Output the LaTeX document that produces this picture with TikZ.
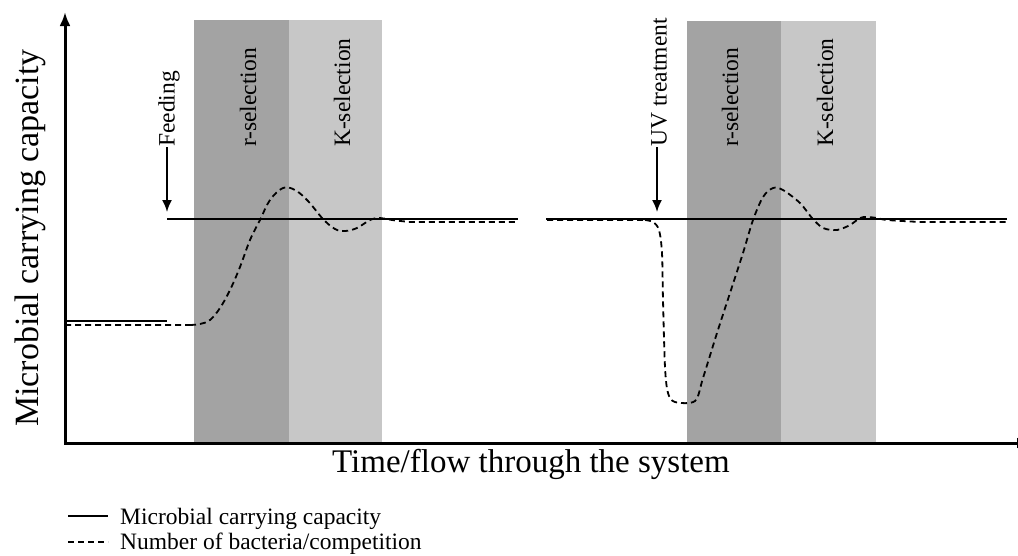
\documentclass[tikz,border=0pt]{standalone}
\usepackage{fontspec}
\setmainfont{Liberation Serif}
\usetikzlibrary{arrows.meta}
\definecolor{rgray}{RGB}{163,163,163}
\definecolor{kgray}{RGB}{199,199,199}
\begin{document}
\begin{tikzpicture}[x=1pt,y=-1pt,
  axisline/.style={line width=3pt},
  capline/.style={line width=1.8pt},
  bactline/.style={line width=1.8pt, dash pattern=on 6pt off 4pt},
  vlab/.style={rotate=90, inner sep=0pt, font=\rmfamily\fontsize{23.5}{28}\selectfont},
  ptr/.style={line width=1.8pt, -{Latex[length=12pt,width=10pt]}},
  legtext/.style={inner sep=0pt, anchor=base west, font=\rmfamily\fontsize{23.5}{26}\selectfont}]
\useasboundingbox (0,0) rectangle (1018,555);
% shaded phases
\fill[rgray] (194,20) rectangle (289,443);
\fill[kgray] (289,20) rectangle (382,443);
\fill[rgray] (687,21) rectangle (781,443);
\fill[kgray] (781,21) rectangle (876,443);
% axes
\coordinate (O) at (65,443);
\coordinate (ytip) at (65,12);
\coordinate (xtip) at (1031,443);
\draw[axisline, {Latex[length=14pt,width=11pt]}-{Latex[length=14pt,width=11pt]}] (ytip) -- (O) -- (xtip);
% carrying capacity
\draw[capline] (65,321) -- (167,321);
\draw[capline] (167,219) -- (518,219);
\draw[capline] (546,219) -- (1007,219);
% bacteria, first event
\draw[bactline] (65,325) -- (190,325)
  plot[smooth, tension=0.6] coordinates {(190,325) (200,324) (210,320) (220,308) (230,290) (240,267) (250,240) (260,220) (270,200) (283,188) (295,190) (308,201) (323,219) (335,229) (345,231) (357,228) (370,220) (380,218) (392,220) (410,222)}
  -- (518,222);
% bacteria, second event
\draw[bactline] (547,220) -- (645,220)
  plot[smooth, tension=0.5] coordinates {(645,220) (653,222) (659,230) (662,253) (663,300) (665,367) (668,393) (675,402) (695,401) (703,378) (717,333) (730,293) (743,253) (753,220) (763,197) (773,188) (783,190) (800,203) (812,218) (823,228) (837,230) (850,225) (860,218) (867,217) (877,218) (887,220) (920,222)}
  -- (1008,222);
% phase labels
\node[vlab, anchor=west] (r1) at (248,147) {r-selection};
\node[vlab, anchor=west] (k1) at (342,147) {K-selection};
\node[vlab, anchor=west] (r2) at (730,147) {r-selection};
\node[vlab, anchor=west] (k2) at (825,147) {K-selection};
% events
\node[vlab, anchor=west] (feed) at (169,147) {Feeding};
\coordinate (feedtip) at (167,212);
\draw[ptr] (feed.west -| feedtip) -- (feedtip);
\node[vlab, anchor=west] (uv) at (659,147) {UV treatment};
\coordinate (uvtip) at (657,212);
\draw[ptr] (uv.west -| uvtip) -- (uvtip);
% axis labels
\node[rotate=90, inner sep=0pt, font=\rmfamily\fontsize{34}{40}\selectfont] (ylab) at (30,238) {Microbial carrying capacity};
\node[inner sep=0pt, anchor=base, font=\rmfamily\fontsize{33}{38}\selectfont] (xlab) at (531,472) {Time/flow through the system};
% legend
\coordinate (l1a) at (68,516); \coordinate (l1b) at (108,516);
\coordinate (l2a) at (68,542); \coordinate (l2b) at (108,542);
\draw[capline] (l1a) -- (l1b);
\draw[bactline] (l2a) -- (l2b);
\node[legtext] (leg1) at (120,524) {Microbial carrying capacity};
\node[legtext] (leg2) at (120,549) {Number of bacteria/competition};
\end{tikzpicture}
\end{document}
